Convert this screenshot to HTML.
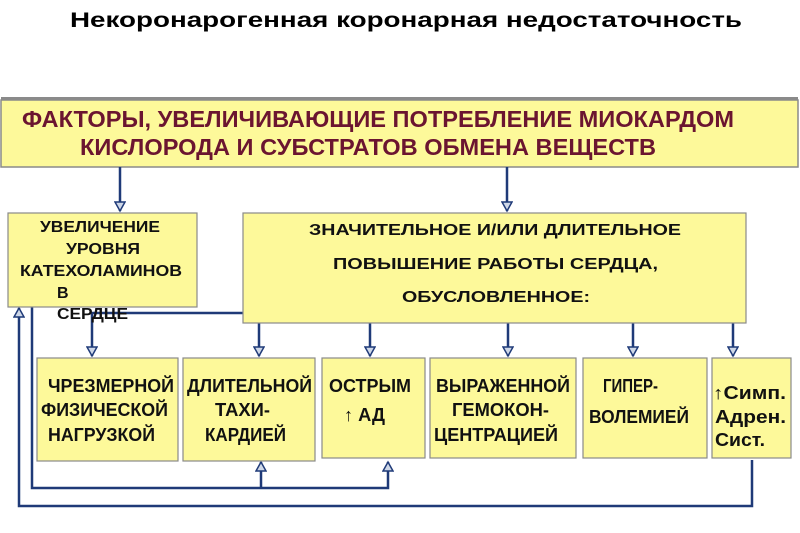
<!DOCTYPE html><html><head><meta charset="utf-8"><style>body{margin:0;background:#fff}svg{display:block}text{font-family:"Liberation Sans",sans-serif;font-weight:bold}</style></head><body>
<svg width="800" height="533" viewBox="0 0 800 533" xmlns="http://www.w3.org/2000/svg">
<defs><marker id="a" markerWidth="12" markerHeight="12" refX="10" refY="6" orient="auto" markerUnits="userSpaceOnUse"><path d="M1,1 L1,11 L10,6 Z" fill="#cfd8e8" stroke="#1f3a78" stroke-width="1.5"/></marker></defs>
<text x="406" y="27" font-size="21" text-anchor="middle" textLength="672" lengthAdjust="spacingAndGlyphs">Некоронарогенная коронарная недостаточность</text>
<rect x="1" y="97" width="797" height="4" fill="#8a8a8a"/>
<rect x="1" y="100" width="797" height="67" fill="#fdf99a" stroke="#8a8a8a" stroke-width="1.5"/>
<text x="22" y="127" font-size="23" fill="#6b1530" textLength="712" lengthAdjust="spacingAndGlyphs">ФАКТОРЫ, УВЕЛИЧИВАЮЩИЕ ПОТРЕБЛЕНИЕ МИОКАРДОМ</text>
<text x="80" y="155" font-size="23" fill="#6b1530" textLength="576" lengthAdjust="spacingAndGlyphs">КИСЛОРОДА И СУБСТРАТОВ ОБМЕНА ВЕЩЕСТВ</text>
<g stroke="#1f3a78" stroke-width="2.5" fill="none">
<line x1="120" y1="167" x2="120" y2="211" marker-end="url(#a)"/>
<line x1="507" y1="167" x2="507" y2="211" marker-end="url(#a)"/>
<polyline points="243,313 92,313 92,356" marker-end="url(#a)"/>
<line x1="259" y1="323" x2="259" y2="356" marker-end="url(#a)"/>
<line x1="370" y1="323" x2="370" y2="356" marker-end="url(#a)"/>
<line x1="508" y1="323" x2="508" y2="356" marker-end="url(#a)"/>
<line x1="633" y1="323" x2="633" y2="356" marker-end="url(#a)"/>
<line x1="733" y1="323" x2="733" y2="356" marker-end="url(#a)"/>
<polyline points="32,307 32,488 388,488 388,462" marker-end="url(#a)"/>
<line x1="261" y1="488" x2="261" y2="462" marker-end="url(#a)"/>
<polyline points="752,460 752,506 19,506 19,308" marker-end="url(#a)"/>
</g>
<g fill="#fdf99a" stroke="#8a8a8a" stroke-width="1.2">
<rect x="8" y="213" width="189" height="94"/>
<rect x="243" y="213" width="503" height="110"/>
<rect x="37" y="358" width="141" height="103"/>
<rect x="183" y="358" width="132" height="103"/>
<rect x="322" y="358" width="103" height="100"/>
<rect x="430" y="358" width="146" height="100"/>
<rect x="583" y="358" width="124" height="100"/>
<rect x="712" y="358" width="79" height="100"/>
</g>
<g font-size="16" fill="#111">
<text x="40" y="232" textLength="120" lengthAdjust="spacingAndGlyphs">УВЕЛИЧЕНИЕ</text>
<text x="66" y="254" textLength="74" lengthAdjust="spacingAndGlyphs">УРОВНЯ</text>
<text x="20" y="276" textLength="162" lengthAdjust="spacingAndGlyphs">КАТЕХОЛАМИНОВ</text>
<text x="57" y="298">В</text>
<text x="57" y="319" textLength="71" lengthAdjust="spacingAndGlyphs">СЕРДЦЕ</text>
<text x="309" y="235" textLength="372" lengthAdjust="spacingAndGlyphs">ЗНАЧИТЕЛЬНОЕ И/ИЛИ ДЛИТЕЛЬНОЕ</text>
<text x="333" y="269" textLength="325" lengthAdjust="spacingAndGlyphs">ПОВЫШЕНИЕ РАБОТЫ СЕРДЦА,</text>
<text x="402" y="302" textLength="188" lengthAdjust="spacingAndGlyphs">ОБУСЛОВЛЕННОЕ:</text>
</g>
<g font-size="18" fill="#111">
<text x="48" y="392" textLength="126" lengthAdjust="spacingAndGlyphs">ЧРЕЗМЕРНОЙ</text>
<text x="41" y="416" textLength="127" lengthAdjust="spacingAndGlyphs">ФИЗИЧЕСКОЙ</text>
<text x="48" y="441" textLength="107" lengthAdjust="spacingAndGlyphs">НАГРУЗКОЙ</text>
<text x="187" y="392" textLength="125" lengthAdjust="spacingAndGlyphs">ДЛИТЕЛЬНОЙ</text>
<text x="215" y="416" textLength="55" lengthAdjust="spacingAndGlyphs">ТАХИ-</text>
<text x="205" y="441" textLength="81" lengthAdjust="spacingAndGlyphs">КАРДИЕЙ</text>
<text x="329" y="392" textLength="82" lengthAdjust="spacingAndGlyphs">ОСТРЫМ</text>
<text x="344" y="421" textLength="41" lengthAdjust="spacingAndGlyphs">↑ АД</text>
<text x="436" y="392" textLength="134" lengthAdjust="spacingAndGlyphs">ВЫРАЖЕННОЙ</text>
<text x="452" y="416" textLength="97" lengthAdjust="spacingAndGlyphs">ГЕМОКОН-</text>
<text x="434" y="441" textLength="124" lengthAdjust="spacingAndGlyphs">ЦЕНТРАЦИЕЙ</text>
<text x="603" y="392" textLength="55" lengthAdjust="spacingAndGlyphs">ГИПЕР-</text>
<text x="589" y="423" textLength="100" lengthAdjust="spacingAndGlyphs">ВОЛЕМИЕЙ</text>
<text x="713" y="399" textLength="73" lengthAdjust="spacingAndGlyphs">↑Симп.</text>
<text x="715" y="423" textLength="71" lengthAdjust="spacingAndGlyphs">Адрен.</text>
<text x="715" y="446" textLength="50" lengthAdjust="spacingAndGlyphs">Сист.</text>
</g>
</svg></body></html>
